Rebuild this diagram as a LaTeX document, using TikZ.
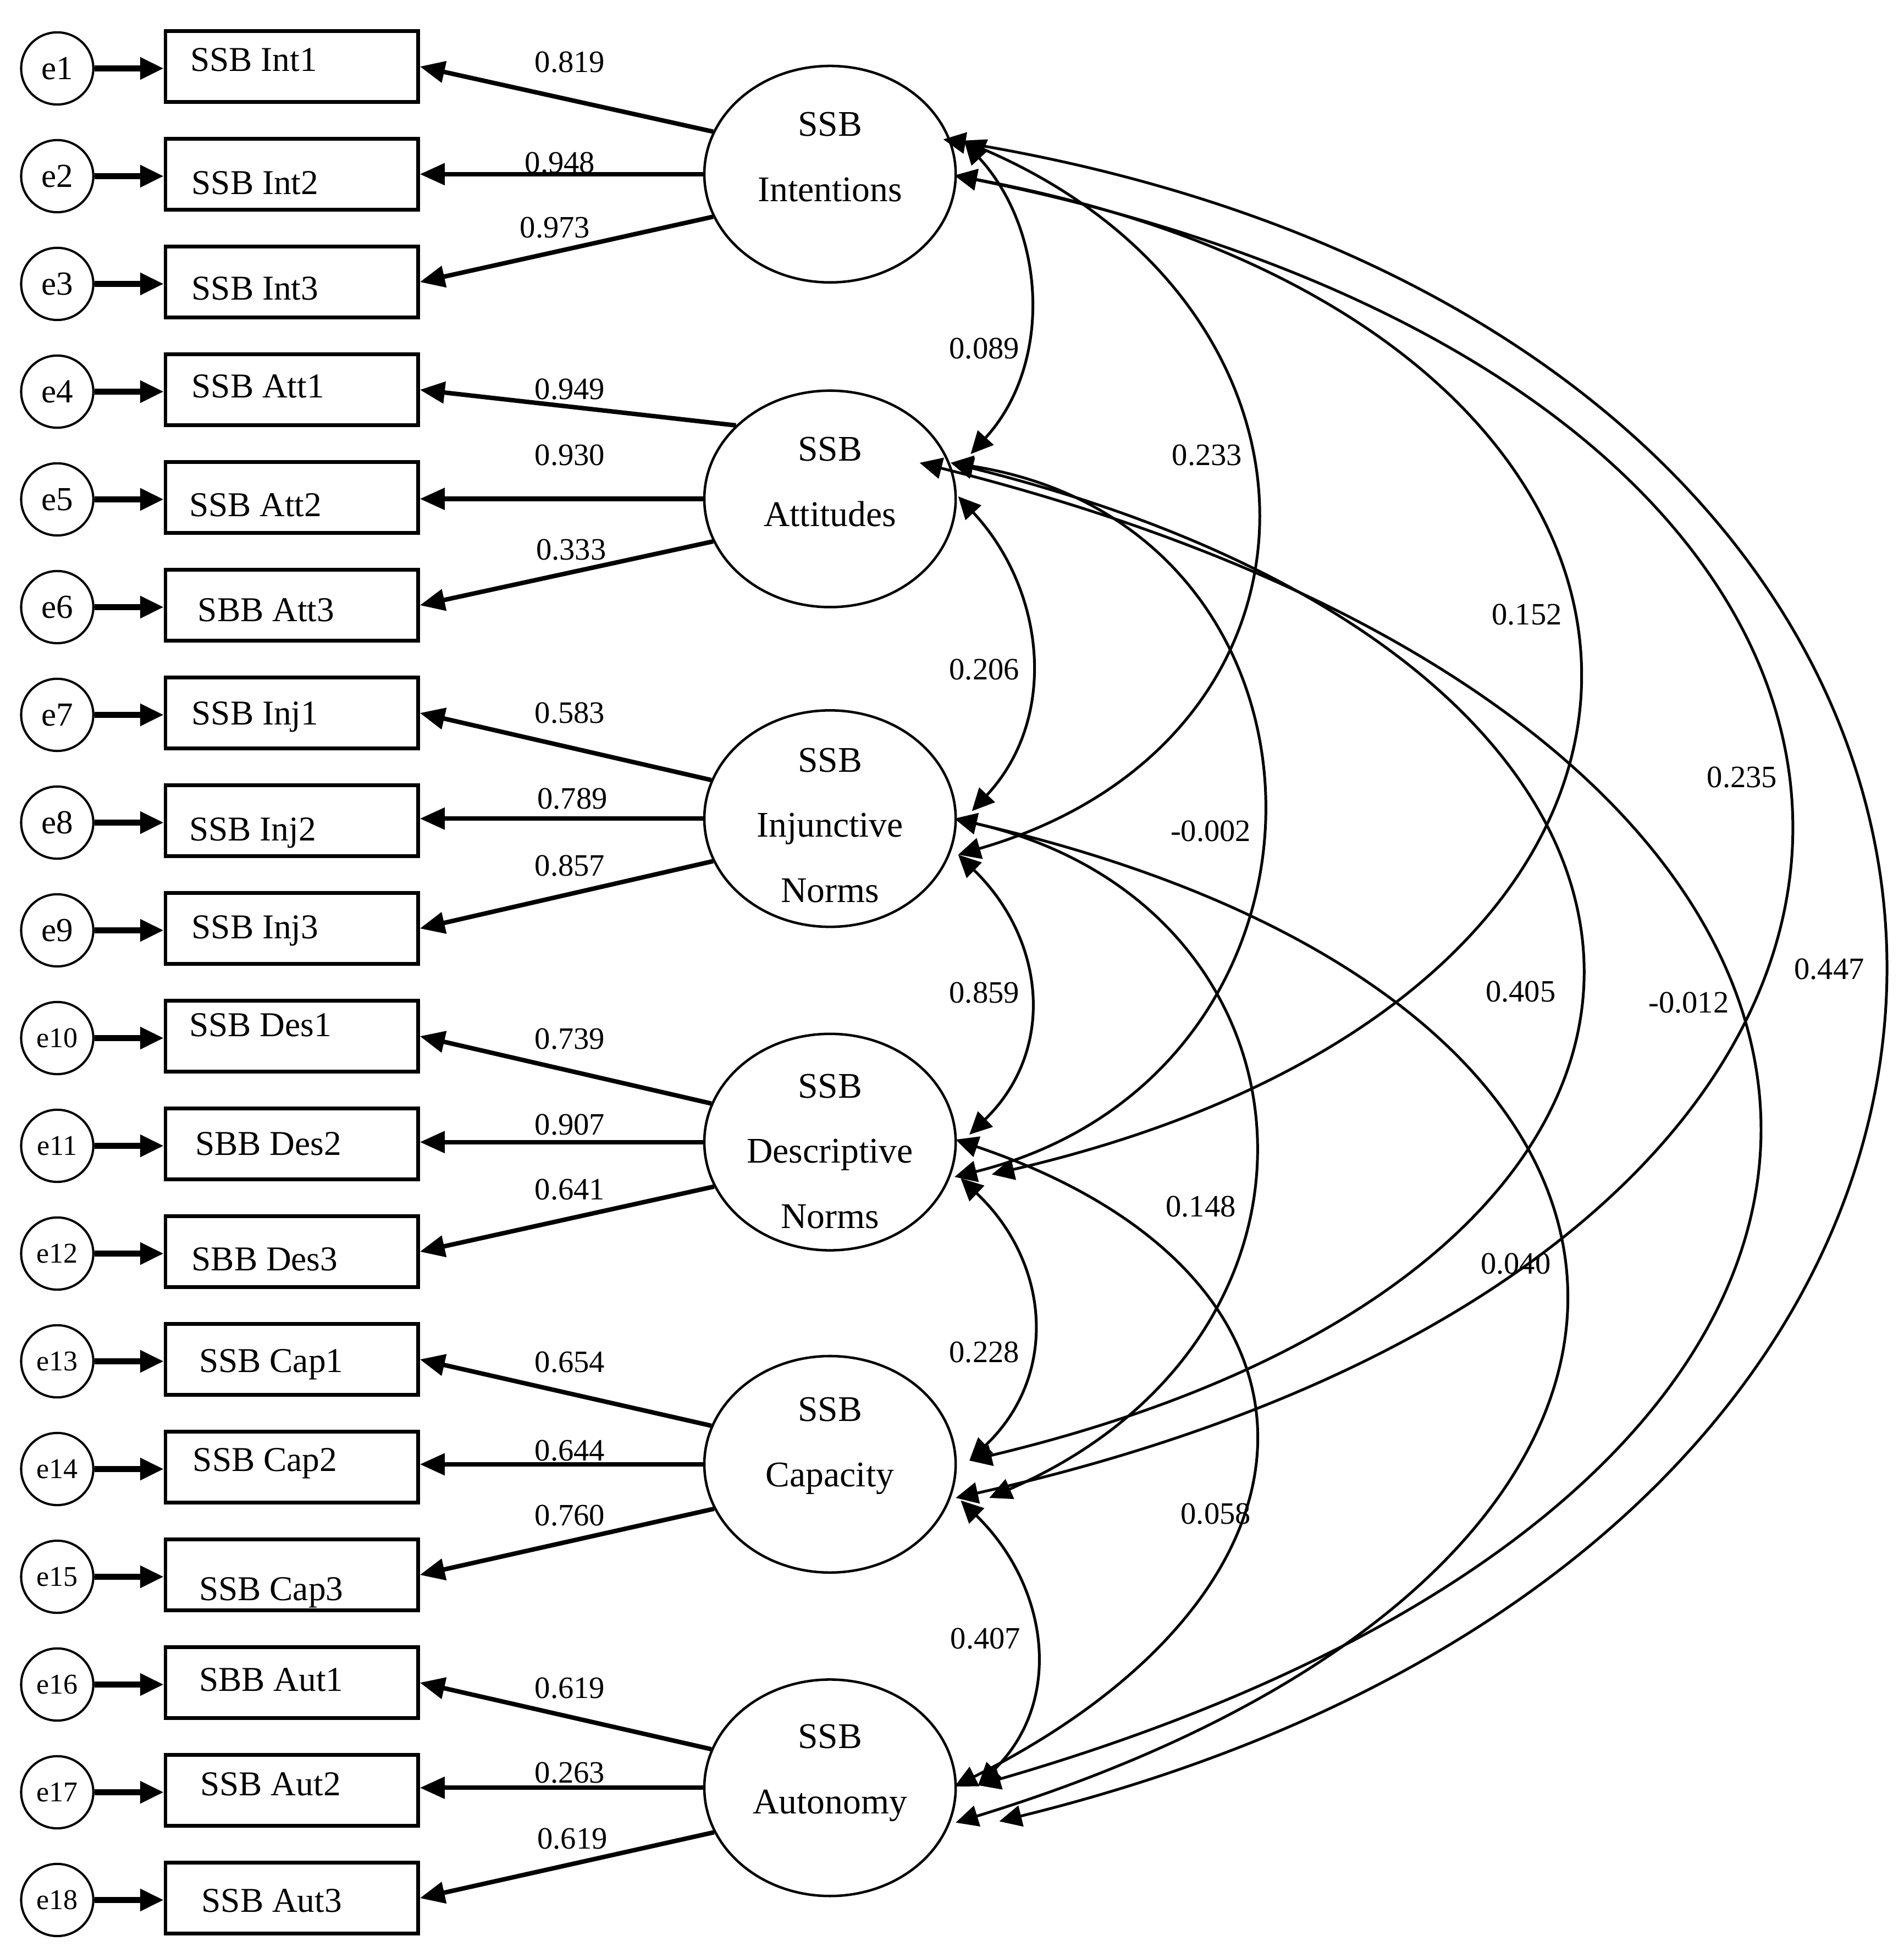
\documentclass[tikz,border=0pt]{standalone}
\usepackage{fontspec}
\setmainfont{Liberation Serif}
\usetikzlibrary{arrows.meta,shapes.geometric,calc}
\newcommand{\bxt}[3]{\makebox[203pt][l]{\hspace*{#1pt}\raisebox{#2pt}{#3}}}
\begin{document}
\begin{tikzpicture}[x=1pt,y=-1pt,
  errc/.style={draw,circle,minimum size=58pt,inner sep=0pt,line width=1.8pt,font=\fontsize{27}{30}\selectfont},
  errs/.style={errc,font=\fontsize{23}{26}\selectfont},
  obsbox/.style={draw,rectangle,minimum width=203pt,minimum height=57pt,inner xsep=0pt,inner ysep=0pt,line width=2.8pt,text height=24pt,text depth=5.4pt,font=\fontsize{28}{30}\selectfont},
  latent/.style={draw,ellipse,minimum width=202pt,minimum height=174pt,inner sep=0pt,line width=2pt},
  lattext/.style={align=center,inner sep=0pt,anchor=north,font=\fontsize{29}{52.5}\selectfont},
  errarrow/.style={line width=4.5pt,-{Triangle[length=19pt,width=17pt]}},
  loadarrow/.style={line width=3.6pt,-{Triangle[length=20pt,width=17pt]}},
  cov/.style={line width=2.2pt,{Triangle[length=18pt,width=17pt]}-{Triangle[length=18pt,width=17pt]}},
  num/.style={font=\fontsize{25}{28}\selectfont,inner sep=0pt},
]
\useasboundingbox (0,0) rectangle (1529.7,1565);

% error terms
\node[errc] (e1) at (46,55.0) {e1};
\node[errc] (e2) at (46,141.6) {e2};
\node[errc] (e3) at (46,228.2) {e3};
\node[errc] (e4) at (46,314.8) {e4};
\node[errc] (e5) at (46,401.4) {e5};
\node[errc] (e6) at (46,488.0) {e6};
\node[errc] (e7) at (46,574.6) {e7};
\node[errc] (e8) at (46,661.2) {e8};
\node[errc] (e9) at (46,747.8) {e9};
\node[errs] (e10) at (46,834.4) {e10};
\node[errs] (e11) at (46,921.0) {e11};
\node[errs] (e12) at (46,1007.6) {e12};
\node[errs] (e13) at (46,1094.2) {e13};
\node[errs] (e14) at (46,1180.8) {e14};
\node[errs] (e15) at (46,1267.4) {e15};
\node[errs] (e16) at (46,1354.0) {e16};
\node[errs] (e17) at (46,1440.6) {e17};
\node[errs] (e18) at (46,1527.2) {e18};

% observed boxes
\node[obsbox] (b1) at (234.5,53.5) {\bxt{20}{5.5}{SSB Int1}};
\node[obsbox] (b2) at (234.5,140.1) {\bxt{21}{-7}{SSB Int2}};
\node[obsbox] (b3) at (234.5,226.7) {\bxt{21}{-5}{SSB Int3}};
\node[obsbox] (b4) at (234.5,313.3) {\bxt{21}{3}{SSB Att1}};
\node[obsbox] (b5) at (234.5,399.9) {\bxt{19}{-6}{SSB Att2}};
\node[obsbox] (b6) at (234.5,486.5) {\bxt{26}{-3.5}{SBB Att3}};
\node[obsbox] (b7) at (234.5,573.1) {\bxt{21}{0}{SSB Inj1}};
\node[obsbox] (b8) at (234.5,659.7) {\bxt{19}{-7}{SSB Inj2}};
\node[obsbox] (b9) at (234.5,746.3) {\bxt{21}{1}{SSB Inj3}};
\node[obsbox] (b10) at (234.5,832.9) {\bxt{19}{9}{SSB Des1}};
\node[obsbox] (b11) at (234.5,919.5) {\bxt{24}{0.5}{SBB Des2}};
\node[obsbox] (b12) at (234.5,1006.1) {\bxt{21}{-6}{SBB Des3}};
\node[obsbox] (b13) at (234.5,1092.7) {\bxt{27}{-1}{SSB Cap1}};
\node[obsbox] (b14) at (234.5,1179.3) {\bxt{22}{6}{SSB Cap2}};
\node[obsbox] (b15) at (234.5,1265.9) {\bxt{27}{-11}{SSB Cap3}};
\node[obsbox] (b16) at (234.5,1352.5) {\bxt{27}{2.5}{SBB Aut1}};
\node[obsbox] (b17) at (234.5,1439.1) {\bxt{28}{5}{SSB Aut2}};
\node[obsbox] (b18) at (234.5,1525.7) {\bxt{29}{-2}{SSB Aut3}};

% error arrows
\foreach \i in {1,...,18}{
  \draw[errarrow] (e\i) -- (e\i -| b\i.west);
}

% latent variables
\node[latent] (int) at (667,140) {};
\node[latent] (att) at (667,401) {};
\node[latent] (inj) at (667,658) {};
\node[latent] (des) at (667,918) {};
\node[latent] (cap) at (667,1177) {};
\node[latent] (aut) at (667,1437) {};
\node[lattext] (intT) at ($(int)+(0,-50)$) {SSB\\Intentions};
\node[lattext] (attT) at ($(att)+(0,-50)$) {SSB\\Attitudes};
\node[lattext] (injT) at ($(inj)+(0,-57)$) {SSB\\Injunctive\\Norms};
\node[lattext] (desT) at ($(des)+(0,-55)$) {SSB\\Descriptive\\Norms};
\node[lattext] (capT) at ($(cap)+(0,-54)$) {SSB\\Capacity};
\node[lattext] (autT) at ($(aut)+(0,-51)$) {SSB\\Autonomy};

% loadings
\draw[loadarrow] (int.160) -- (b1.east);
\draw[loadarrow] (int.west) -- (int.west -| b2.east);
\draw[loadarrow] (int.200) -- (b3.east);
\draw[loadarrow] (att.142) -- (b4.east);
\draw[loadarrow] (att.west) -- (att.west -| b5.east);
\draw[loadarrow] (att.200) -- (b6.east);
\draw[loadarrow] (inj.162) -- (b7.east);
\draw[loadarrow] (inj.west) -- (inj.west -| b8.east);
\draw[loadarrow] (inj.200) -- (b9.east);
\draw[loadarrow] (des.162) -- (b10.east);
\draw[loadarrow] (des.west) -- (des.west -| b11.east);
\draw[loadarrow] (des.201) -- (b12.east);
\draw[loadarrow] (cap.162) -- (b13.east);
\draw[loadarrow] (cap.west) -- (cap.west -| b14.east);
\draw[loadarrow] (cap.201) -- (b15.east);
\draw[loadarrow] (aut.162) -- (b16.east);
\draw[loadarrow] (aut.west) -- (aut.west -| b17.east);
\draw[loadarrow] (aut.201) -- (b18.east);

% loading labels
\node[num] (l1) at (458,50) {0.819};
\node[num] (l2) at (450,131) {0.948};
\node[num] (l3) at (446,183) {0.973};
\node[num] (l4) at (458,313) {0.949};
\node[num] (l5) at (458,366) {0.930};
\node[num] (l6) at (459,442) {0.333};
\node[num] (l7) at (458,573) {0.583};
\node[num] (l8) at (460,642) {0.789};
\node[num] (l9) at (458,696) {0.857};
\node[num] (l10) at (458,835) {0.739};
\node[num] (l11) at (458,904) {0.907};
\node[num] (l12) at (458,956) {0.641};
\node[num] (l13) at (458,1095) {0.654};
\node[num] (l14) at (458,1166) {0.644};
\node[num] (l15) at (458,1218) {0.760};
\node[num] (l16) at (458,1357) {0.619};
\node[num] (l17) at (458,1425) {0.263};
\node[num] (l18) at (460,1478) {0.619};

% covariance ports
\coordinate (intUa) at ($(int)+(108,-26)$);
\coordinate (intUb) at ($(int)+(107,-27)$);
\coordinate (intUc) at ($(int)+(91,-28)$);
\coordinate (intM)  at ($(int)+(100,1)$);
\coordinate (attUa) at ($(att)+(113,-36)$);
\coordinate (attUb) at ($(att)+(97,-29)$);
\coordinate (attUc) at ($(att)+(72,-29)$);
\coordinate (attL)  at ($(att)+(103,-2)$);
\coordinate (injUa) at ($(inj)+(114,-6)$);
\coordinate (injUb) at ($(inj)+(100,0)$);
\coordinate (injL)  at ($(inj)+(103,29)$);
\coordinate (desUa) at ($(des)+(112,-6)$);
\coordinate (desUb) at ($(des)+(101,-2)$);
\coordinate (desLa) at ($(des)+(105,29)$);
\coordinate (desLb) at ($(des)+(100,28)$);
\coordinate (desLc) at ($(des)+(130,26)$);
\coordinate (capU)  at ($(cap)+(112,-3)$);
\coordinate (capLa) at ($(cap)+(105,29)$);
\coordinate (capLb) at ($(cap)+(101,27)$);
\coordinate (capLc) at ($(cap)+(128,27)$);
\coordinate (autUa) at ($(aut)+(100,-1)$);
\coordinate (autUb) at ($(aut)+(119,-2)$);
\coordinate (autLa) at ($(aut)+(101,28)$);
\coordinate (autLb) at ($(aut)+(136,27)$);

% adjacent covariances
\draw[cov] (intUa) .. controls +(66,72) and +(66,-72) .. (attUa);
\draw[cov] (attL) .. controls +(70,75) and +(70,-75) .. (injUa);
\draw[cov] (injL) .. controls +(70,68) and +(70,-68) .. (desUa);
\draw[cov] (desLa) .. controls +(72,68) and +(72,-68) .. (capU);
\draw[cov] (capLa) .. controls +(70,68) and +(70,-68) .. (autUb);
% span 2
\draw[cov] (intUb) .. controls +(315,135) and +(315,-91) .. (injL);
\draw[cov] (attUb) .. controls +(330,52) and +(330,-82) .. (desLb);
\draw[cov] (injUb) .. controls +(300,69) and +(300,-130) .. (capLc);
\draw[cov] (desUb) .. controls +(319,108) and +(319,-160) .. (autUa);
% span 3
\draw[cov] (intM) .. controls +(646,120) and +(646,-150) .. (desLc);
\draw[cov] (attUb) .. controls +(663,165) and +(663,-158) .. (capU);
\draw[cov] (injUb) .. controls +(651,150) and +(651,-200) .. (autLa);
% span 4
\draw[cov] (intM) .. controls +(892,180) and +(892,-200) .. (capLb);
\draw[cov] (attUc) .. controls +(864,216) and +(864,-250) .. (autUb);
% span 5
\draw[cov] (intUc) .. controls +(975,160) and +(975,-240) .. (autLb);

% covariance labels
\node[num] (k1) at (791,280) {0.089};
\node[num] (k2) at (791,538) {0.206};
\node[num] (k3) at (791,798) {0.859};
\node[num] (k4) at (791,1087) {0.228};
\node[num] (k5) at (792,1317) {0.407};
\node[num] (k6) at (970,366) {0.233};
\node[num] (k7) at (973,668) {-0.002};
\node[num] (k8) at (965,970) {0.148};
\node[num] (k9) at (977,1217) {0.058};
\node[num] (k10) at (1227,494) {0.152};
\node[num] (k11) at (1222,797) {0.405};
\node[num] (k12) at (1218,1016) {0.040};
\node[num] (k13) at (1400,625) {0.235};
\node[num] (k14) at (1357,806) {-0.012};
\node[num] (k15) at (1470,779) {0.447};
\end{tikzpicture}
\end{document}
